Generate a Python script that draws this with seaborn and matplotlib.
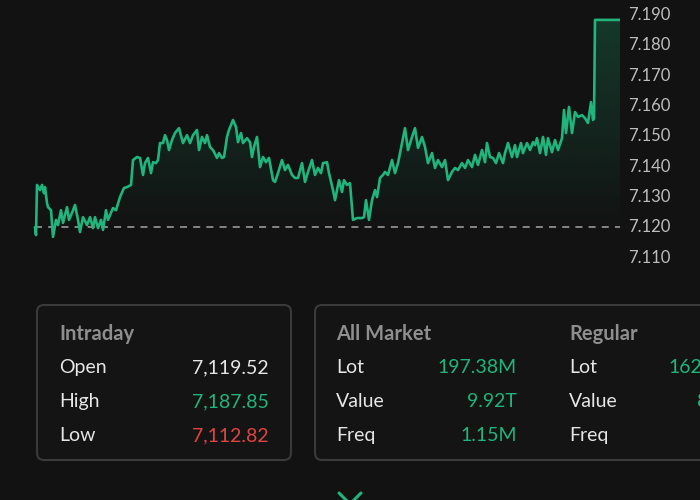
import numpy as np
import pandas as pd
import matplotlib
matplotlib.use("Agg")
import matplotlib.pyplot as plt
import seaborn as sns
from matplotlib.patches import FancyBboxPatch, Polygon
from matplotlib.lines import Line2D
from matplotlib.ticker import FuncFormatter, FixedLocator

# ---------------- data ----------------
minute = [0, 1, 2, 5, 7, 9, 10, 12, 13, 16, 18, 21, 23, 26, 28, 32, 34, 37, 40, 43,
          45, 48, 52, 55, 58, 60, 63, 66, 68, 71, 73, 78, 81, 85, 89, 92, 96, 98, 102, 105,
          108, 110, 113, 116, 118, 121, 123, 125, 128, 130, 132, 134, 137, 140, 144, 148, 152, 155, 158, 162,
          164, 167, 170, 172, 175, 178, 182, 184, 187, 189, 192, 194, 198, 201, 203, 206, 208, 212, 215, 217,
          219, 222, 225, 228, 231, 234, 238, 240, 243, 247, 250, 253, 257, 260, 263, 267, 270, 273, 277, 280,
          283, 286, 288, 292, 294, 298, 300, 304, 307, 309, 312, 315, 318, 322, 327, 329, 331, 334, 337, 340,
          342, 345, 348, 350, 353, 357, 360, 363, 367, 370, 373, 377, 380, 383, 387, 390, 393, 397, 400, 403,
          407, 410, 413, 417, 420, 423, 427, 430, 433, 437, 440, 443, 447, 450, 452, 455, 458, 461, 464, 468,
          470, 473, 477, 480, 482, 486, 488, 492, 495, 498, 500, 502, 505, 508, 511, 513, 517, 520, 523, 527,
          529, 531, 534, 537, 540, 543, 547, 550, 553, 556, 558, 559, 560, 585]
price = [7119.6, 7117.0, 7133.5, 7131.8, 7133.5, 7130.8, 7132.8, 7127.6, 7126.2, 7125.2,
         7116.4, 7122.0, 7120.3, 7125.2, 7121.0, 7126.2, 7122.0, 7124.3, 7126.9, 7122.0,
         7118.0, 7122.9, 7120.3, 7122.9, 7119.3, 7122.9, 7119.3, 7122.0, 7118.7, 7125.2,
         7122.0, 7125.9, 7125.2, 7129.5, 7132.5, 7132.8, 7133.5, 7141.7, 7142.7, 7142.4,
         7136.8, 7140.7, 7142.4, 7137.4, 7141.0, 7140.7, 7141.7, 7147.3, 7147.3, 7149.9,
         7148.3, 7145.0, 7148.3, 7150.6, 7152.2, 7147.3, 7149.9, 7147.3, 7149.9, 7151.6,
         7145.0, 7149.3, 7147.3, 7149.9, 7146.0, 7145.0, 7142.4, 7144.0, 7142.4, 7142.7,
         7149.3, 7151.6, 7154.9, 7152.6, 7147.6, 7150.6, 7147.3, 7148.9, 7147.6, 7142.7,
         7146.0, 7149.3, 7139.4, 7142.7, 7141.0, 7142.4, 7135.1, 7134.5, 7137.4, 7141.7,
         7138.4, 7140.1, 7136.8, 7135.8, 7135.8, 7140.7, 7134.5, 7137.8, 7141.7, 7136.8,
         7139.1, 7137.4, 7140.7, 7141.0, 7137.4, 7131.8, 7128.5, 7135.1, 7131.2, 7135.1,
         7133.5, 7134.1, 7122.0, 7122.6, 7122.6, 7122.9, 7128.5, 7122.0, 7128.5, 7131.8,
         7129.5, 7135.8, 7136.8, 7137.8, 7136.8, 7141.7, 7137.4, 7140.7, 7147.3, 7152.2,
         7145.0, 7149.3, 7152.2, 7145.7, 7149.3, 7146.0, 7140.7, 7144.0, 7139.1, 7141.7,
         7139.4, 7141.7, 7135.1, 7137.8, 7139.1, 7138.4, 7140.7, 7139.1, 7141.7, 7139.4,
         7143.4, 7140.1, 7145.0, 7141.0, 7147.3, 7142.7, 7142.4, 7140.7, 7144.0, 7140.7,
         7144.0, 7147.3, 7142.7, 7146.6, 7142.7, 7147.3, 7144.0, 7147.3, 7145.0, 7147.6,
         7146.6, 7148.9, 7144.0, 7149.3, 7143.4, 7148.9, 7144.3, 7148.3, 7145.0, 7148.9,
         7158.2, 7150.6, 7159.2, 7150.6, 7157.5, 7155.9, 7156.5, 7155.5, 7153.9, 7160.8,
         7154.9, 7155.5, 7187.85, 7187.85]
open_price = 7119.52
y_ticks = [7110, 7120, 7130, 7140, 7150, 7160, 7170, 7180, 7190]

intraday_labels = ["Open", "High", "Low"]
intraday_values = ["7,119.52", "7,187.85", "7,112.82"]
market_labels = ["Lot", "Value", "Freq"]
all_market_values = ["197.38M", "9.92T", "1.15M"]
regular_values = ["162.41M", "8.16T", "985K"]

# ---------------- style ----------------
BG = "#121212"
GREEN = "#1fb57c"
RED = "#e0453f"
sns.set_theme(style="dark", rc={"axes.facecolor": BG, "figure.facecolor": BG})
plt.rcParams["font.family"] = ["Lato", "DejaVu Sans"]

fig = plt.figure(figsize=(7, 5), dpi=100)
fig.patch.set_facecolor(BG)

# overlay axes in pixel units for boxes and text
ov = fig.add_axes([0, 0, 1, 1], zorder=0)
ov.set_xlim(0, 700)
ov.set_ylim(500, 0)
ov.axis("off")

ax = fig.add_axes([0, 0.46, 620 / 700, 0.54], zorder=1)
ax.set_facecolor("none")

df = pd.DataFrame({"minute": minute, "price": price})
sns.lineplot(data=df, x="minute", y="price", ax=ax, color=GREEN, linewidth=1.9,
             estimator=None, sort=False, zorder=3)

ylo, yhi = 7105.5, 7194.4
ax.set_xlim(-35, 585)
ax.set_ylim(ylo, yhi)

# gradient fill below line
grad = np.zeros((256, 1, 4))
rgb = matplotlib.colors.to_rgb(GREEN)
grad[:, 0, 0:3] = rgb
grad[:, 0, 3] = np.linspace(0.0, 0.24, 256)
top = max(price)
bottom = 7118.0
im = ax.imshow(grad, aspect="auto", origin="lower",
               extent=[minute[0], minute[-1], bottom, top], zorder=1, interpolation="bicubic")
poly_pts = [(minute[0], bottom)] + list(zip(minute, price)) + [(minute[-1], bottom)]
clip = Polygon(poly_pts, closed=True, facecolor="none", edgecolor="none", transform=ax.transData)
ax.add_patch(clip)
im.set_clip_path(clip)

# open reference dashed line
ax.hlines(open_price, minute[0], minute[-1], colors="#8f8f8f",
          linestyles=(0, (3.9, 3.4)), linewidth=1.3, zorder=2)

ax.yaxis.tick_right()
ax.yaxis.set_major_locator(FixedLocator(y_ticks))
ax.yaxis.set_major_formatter(FuncFormatter(lambda v, p: f"{v/1000:.3f}"))
ax.tick_params(axis="y", length=0, pad=6, labelsize=12, labelcolor="#bdbdbd")
ax.set_xticks([])
ax.set_xlabel("")
ax.set_ylabel("")
ax.grid(False)
for s in ax.spines.values():
    s.set_visible(False)

# ---------------- info boxes ----------------
EDGE = "#3a3a3a"
box1 = FancyBboxPatch((37, 305), 254, 155, boxstyle="round,pad=0,rounding_size=7",
                      facecolor="#141414", edgecolor=EDGE, linewidth=1.5)
box2 = FancyBboxPatch((315, 305), 600, 155, boxstyle="round,pad=0,rounding_size=7",
                      facecolor="#141414", edgecolor=EDGE, linewidth=1.5)
ov.add_patch(box1)
ov.add_patch(box2)

HEAD = "#8e8e8e"
TXT = "#e6e6e6"
row_base = [373, 407, 441]

ov.text(59, 340, "Intraday", color=HEAD, fontsize=14.5, fontweight="bold", va="baseline", ha="left")
val_colors = [TXT, GREEN, RED]
for lab, val, c, yb in zip(intraday_labels, intraday_values, val_colors, row_base):
    ov.text(59, yb, lab, color=TXT, fontsize=14, va="baseline", ha="left")
    ov.text(269, yb, val, color=c, fontsize=14, va="baseline", ha="right")

ov.text(336, 340, "All Market", color=HEAD, fontsize=14.5, fontweight="bold", va="baseline", ha="left")
ov.text(569, 340, "Regular", color=HEAD, fontsize=14.5, fontweight="bold", va="baseline", ha="left")
for lab, v1, v2, yb in zip(market_labels, all_market_values, regular_values, row_base):
    ov.text(336, yb, lab, color=TXT, fontsize=14, va="baseline", ha="left")
    ov.text(517, yb, v1, color=GREEN, fontsize=14, va="baseline", ha="right")
    ov.text(569, yb, lab, color=TXT, fontsize=14, va="baseline", ha="left")
    ov.text(747, yb, v2, color=GREEN, fontsize=14, va="baseline", ha="right")

# expand chevron at bottom
ov.add_line(Line2D([339, 350, 361], [493, 504, 493], color=GREEN, linewidth=2.2,
                   solid_capstyle="round"))

fig.savefig("out.png", dpi=100, facecolor=BG)
